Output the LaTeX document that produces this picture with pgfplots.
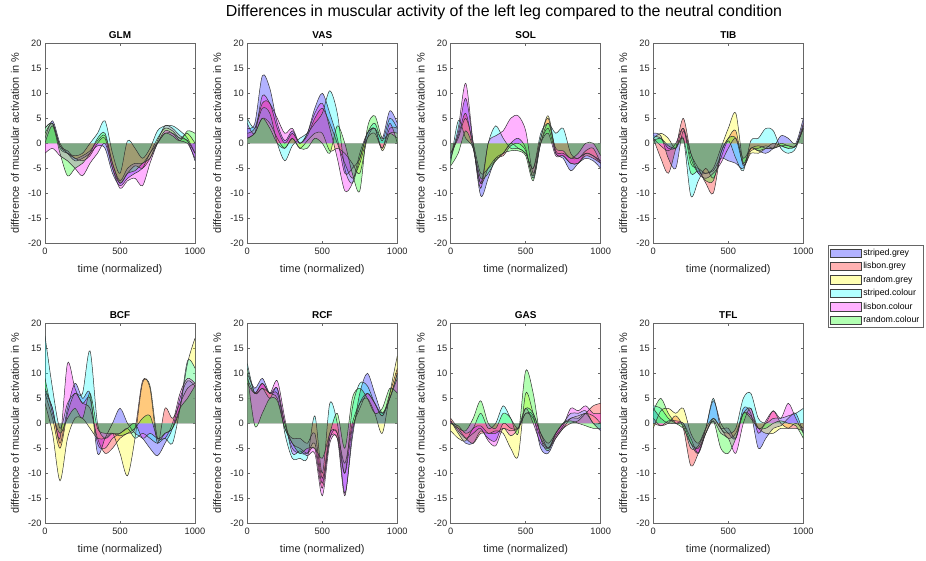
\documentclass[border=0pt]{standalone}
\usepackage{fontspec}
\setmainfont{Liberation Sans}
\usepackage{pgfplots}
\usepackage{pgfplotstable}
\pgfplotsset{compat=1.18}

\definecolor{cB}{rgb}{0,0,1}
\definecolor{cR}{rgb}{1,0,0}
\definecolor{cY}{rgb}{1,1,0}
\definecolor{cC}{rgb}{0,1,1}
\definecolor{cM}{rgb}{1,0,1}
\definecolor{cG}{rgb}{0,1,0}
\definecolor{axgrey}{rgb}{0.4,0.4,0.4}
\definecolor{txgrey}{rgb}{0.15,0.15,0.15}

% columns: a striped.grey, b lisbon.grey, c random.grey, d striped.colour, e lisbon.colour, f random.colour
\pgfplotstableread{
x a b c d e f
0 1 2 3 3 -2 0
50 4.5 4 4 4 -1 3.5
100 0 -0.5 -0.5 -1 -2.5 -2
150 -2 -2 -1.5 -2 -3.5 -6.5
200 -3.5 -3 -3 -2.5 -5 -5
250 -3 -3.5 -2.5 -2 -6.5 -4
300 -2 -2.5 -1.5 0 -4 -2
350 -0.5 0 0.5 2 -2 1
400 -1 1 1.5 4.5 0 2
450 -6 -5 -4 -2 -5 -4
500 -8.5 -8 -7.5 -6 -9 -8
550 -7 -6 -5 0.5 -7.5 -6
600 -6 -4.5 -4 -1 -7 -5.5
650 -5 -5 -4 -3 -8.5 -4
700 -2 -3 -2 -1 -4 -3
750 0 0.5 1 2.5 0 0
800 2 3.5 3 3.5 2.5 2
850 2 3 2.5 3.5 2 1.5
900 1 1.5 1 2.5 0.5 0.5
950 0.5 0.5 2 1 0 2.5
1000 -3.5 -2 0 -2 -3 2
}\tGLM

\pgfplotstableread{
x a b c d e f
0 3 2 1 5 4 1
50 4 3 2 3 2 2
100 13.5 8 5 7 9.5 5
150 11 8 4 6 8 3
200 4 3 1 0 5 0
250 0.5 0 -1 -3.5 2 -1
300 2.5 2 1 -0.5 3 1
350 0 0 -1 1 0 -1
400 2 1.5 0.5 2 2 -1
450 7 5 2 4 6 1
500 10 7 2 6 8 0
550 6 4 -1.5 10.5 3 -2
600 1 0 -1 6 -3 3.5
650 -6 -4 -2 -5 -9.5 0
700 -5 -7 -4 -8 -8 -6
750 -3 -4 -6 -3 -2 -9.5
800 2 1 1 2 2 3
850 3 2 3 4 3 5.5
900 1 -1 -1.5 0.5 -1 1
950 6.5 3 2 5 4 2
1000 4 3 2 3 0 1
}\tVAS

\pgfplotstableread{
x a b c d e f
0 -3 -2 -2 -4 -3 -4.5
50 2 1.5 1 4.5 3 -2
100 9 6 5 1 12 2.5
150 0 -1 0 -1 0 -1
200 -10.5 -8 -6 -8 -9 -7
250 -7 -5 -5 0 0 -6
300 -3 -3 -3.5 3.5 1.5 -3.5
350 -2 -2.5 -2 1 2.5 -2
400 0 -0.5 0 -1 5 -1.5
450 1 0 -1 -1 5.5 -1.5
500 -1 -1.5 -2 -2 2.5 -2.5
550 -7 -6.5 -5 -5 -6 -7.5
600 0 1 1 2 0 0
650 3 5 5.5 4 2 4
700 -2 -2 -1.5 2 -2.5 -1
750 -3 -2.5 -2 3 -2.5 -1.5
800 -5.5 -4 -3 -2 -4 -3
850 -4 -4 -3 -3 -4 -2
900 -3 -2.5 -2 -1.5 -2 0
950 -3.5 -3 -2.5 -1 -2.5 0
1000 -5 -4 -3.5 -4 -4 -2.5
}\tSOL

\pgfplotstableread{
x a b c d e f
0 2 1 1 1.5 1 0.5
50 1.5 -3 2 1 -0.5 1
100 -3 -6 1 -1 -1.5 -0.5
150 -5 -1 -1 -1 0 -1
200 2.5 5 3 1 3 1
250 -3 -2 -4 -10.5 -2 -6
300 -6 -5 -5 -7.5 -6 -5.5
350 -6 -8 -6 -5 -7 -7.5
400 -5.5 -10 -5 -7 -6 -7.5
450 -3 -2 -1 -3 -4 -2
500 -3.5 1 3 0.5 -1 1
550 -4 2.5 6 -3 1 1
600 -5 -4.5 -4 -5.5 -3 -4
650 -1 -1.5 -2 0.5 -1 -1
700 -1.5 -1 -2 1 -0.5 -1.5
750 -2 -0.5 -1 3 -1 -1
800 -1 -1 0 2.5 -1 -1
850 1.5 -0.5 -0.5 -1 0 -0.5
900 1 -0.5 -1 -2 -0.5 -1
950 0 -0.5 -0.5 -1 -0.5 -0.5
1000 5 4 3 3.5 3 3
}\tTIB

\pgfplotstableread{
x a b c d e f
0 7 6 4 17.5 6.5 9
50 3 1 -2 7 3 2
100 -4 -5 -11.5 -1 -3 -2
150 3 2 -3 4 12 1
200 8 6 1 6 7 3
250 5 4 1 6 4 1
300 6 3 -1 14.5 5 6
350 -6 -3 -3 0 -4 -1
400 -3 -6 -3 -3 -5 -2
450 0 -5 -2 -2 -3 -2
500 3 -3 -6 -2 -2 -2.5
550 0 -2 -10.5 -1 -1 -2
600 -2 -1 -3 -3 0 -1
650 -3 8.5 8 -2 -3 1
700 -5 7 7.5 -3 -2 1.5
750 -6.5 -4 -3 -4 -3 -3
800 -4 3 -2 -3 -3 -2
850 -1 1 -1 -4 0 -1
900 5 4 3 3 6 3
950 8.5 7 12 12.5 9 5
1000 7.5 8 17 11 8 7.5
}\tBCF

\pgfplotstableread{
x a b c d e f
0 10 9 11 12 8 10
50 7 6 6 6 6 -0.5
100 9 8 7 7 8 2
150 6 6 6 5 6 5
200 7 6 5 7 8.5 4.5
250 0 0 -1 -2 1 -1
300 -5 -4 -3 -7 -6 -4
350 -6 -5 -3 -7 -5.5 -6
400 -6 -6 -4 -7 -6.5 -5
450 -4 -5 -2 1.5 -6 -5
500 -12 -13 -11 -10 -14.5 -7
550 -3 -3 -2 4 -4 -2
600 -2 -3 -2 0 -3 2
650 -14 -10 -8 -10 -14.5 -5
700 -3 -1 0 3 -2 5
750 6 3 4 8 4 7
800 10 6 5 7.5 6 5
850 6 4 2 4 4 2
900 2 1.5 -2 2 1.5 3
950 5 6 6 5 5 7
1000 10 11 13.5 10 9 6
}\tRCF

\pgfplotstableread{
x a b c d e f
0 0.5 1 -1.5 0 0.5 0
50 -2 -1 -3 -0.5 -1.5 -1
100 -4 -3 -3.5 -2 -3 -1.5
150 -4 -4 -1 -1 -2 1
200 -1.5 -2 -0.5 2 -1 4.5
250 -3 -2 -2 -1 -3.5 0
300 -3.5 -2 -1.5 0 -4.5 -1
350 0 -1 -2 3.5 -1 2
400 -1 -1.5 -5 1 -2.5 1
450 -1 -1 -6.5 -1 -1 -2
500 2 2 6 3 3 10.5
550 1.5 1 2 2 0 6
600 -5 -3 -2 -2 -4 -3
650 -6 -5 -4 -5 -5 -5.5
700 -3 -3 -2 -2 -2.5 -2
750 -1 -1 0 0 -0.5 0
800 1 0 1 2 3 0.5
850 1 0.5 1.5 2 2.5 0
900 2 2 2 2.5 3.5 -0.5
950 0 3.5 1.5 0 2 -1
1000 -1.5 4 0 0 2 -1
}\tGAS

\pgfplotstableread{
x a b c d e f
0 3 0 -1 3.5 1 2.5
50 1 -0.5 2.5 3 -0.5 5
100 0 0 3 1 0.5 2
150 0 1.5 2 0 0.5 0
200 0 -1 3 -0.5 0 -1
250 -4 -8.5 -2 -5 -3 -4
300 -6 -6 -4 -4.5 -6 -5
350 -1 -2 -1 -1 -2 -2
400 4.5 1 1 5 0.5 0.5
450 0 -1 -1 -1 -2 -5
500 -2 -3 -1 -2 -3 -6
550 -3 -2 -3 -1 -6 -3
600 3 2 2 5 0 2
650 2 3 1.5 6 3 1
700 -5 -1 -1 1 -2 -1
750 -3 0 -2 0 0.5 -1
800 -1 2.5 -2 1 2.5 0
850 -0.5 0 -1 1 1 0.5
900 1 -1 -1 1.5 4 0
950 2 -1 0 2 1 -0.5
1000 -2 -1.5 -1 3 -2 -3
}\tTFL

\pgfplotsset{
  muscle/.style={
    scale only axis, width=150bp, height=200bp,
    anchor=south west,
    xmin=0, xmax=1000, ymin=-20, ymax=20,
    xtick={0,500,1000}, ytick={-20,-15,...,20},
    tick align=inside, xtick pos=both, ytick pos=both,
    major tick length=2.5bp,
    every tick/.style={axgrey, line width=0.5bp},
    axis line style={axgrey, line width=0.6bp},
    /pgf/number format/assume math mode=true,
    /pgf/number format/1000 sep={},
    ticklabel style={font=\fontsize{9.3}{10}\selectfont, text=txgrey},
    xticklabel style={yshift=-1bp},
    xlabel={time (normalized)},
    ylabel={difference of muscular activation in \%},
    label style={font=\fontsize{11}{12}\selectfont, text=txgrey},
    xlabel style={at={(axis description cs:0.5,-0.13)}, anchor=center},
    ylabel style={at={(axis description cs:-0.2,0.5)}, anchor=center, rotate=0},
    title style={font=\bfseries\fontsize{10}{12}\selectfont, yshift=-5bp},
    clip=true,
  },
  ar/.style={fill=#1, fill opacity=0.3, draw=none, smooth, tension=0.5,
    legend image code/.code={\draw[##1, draw=black!75, draw opacity=1, line width=0.5bp] (0bp,-4.2bp) rectangle (31bp,4.2bp);}},
  ln/.style={black!80, line width=0.5bp, smooth, tension=0.5, forget plot},
}

\newcommand{\muscleplots}[1]{%
  \addplot[ar=cB] table[x=x,y=a]{#1} \closedcycle;
  \addplot[ar=cR] table[x=x,y=b]{#1} \closedcycle;
  \addplot[ar=cY] table[x=x,y=c]{#1} \closedcycle;
  \addplot[ar=cC] table[x=x,y=d]{#1} \closedcycle;
  \addplot[ar=cM] table[x=x,y=e]{#1} \closedcycle;
  \addplot[ar=cG] table[x=x,y=f]{#1} \closedcycle;
  \addplot[ln] table[x=x,y=a]{#1};
  \addplot[ln] table[x=x,y=b]{#1};
  \addplot[ln] table[x=x,y=c]{#1};
  \addplot[ln] table[x=x,y=d]{#1};
  \addplot[ln] table[x=x,y=e]{#1};
  \addplot[ln] table[x=x,y=f]{#1};
}

\begin{document}
\begin{tikzpicture}
\path[use as bounding box] (0bp,0bp) rectangle (926bp,561bp);
\node[font=\fontsize{16}{18}\selectfont, text=black] at (504bp,549bp) {Differences in muscular activity of the left leg compared to the neutral condition};

\begin{axis}[muscle, at={(45bp,317.7bp)}, title={GLM}]
\muscleplots{\tGLM}
\end{axis}
\begin{axis}[muscle, at={(247.3bp,317.7bp)}, title={VAS}]
\muscleplots{\tVAS}
\end{axis}
\begin{axis}[muscle, at={(450.7bp,317.7bp)}, title={SOL}]
\muscleplots{\tSOL}
\end{axis}
\begin{axis}[muscle, at={(653.3bp,317.7bp)}, title={TIB},
  legend entries={striped.grey,lisbon.grey,random.grey,striped.colour,lisbon.colour,random.colour},
  legend style={at={(axis description cs:1.165,-0.01)}, anchor=north west,
    draw=axgrey, line width=0.5bp, font=\fontsize{8.8}{10}\selectfont, text=black,
    inner xsep=1.5bp, inner ysep=1.5bp, row sep=1.6bp, cells={anchor=west}},
  legend cell align=left]
\muscleplots{\tTIB}
\end{axis}

\begin{axis}[muscle, at={(45bp,37.7bp)}, title={BCF}]
\muscleplots{\tBCF}
\end{axis}
\begin{axis}[muscle, at={(247.3bp,37.7bp)}, title={RCF}]
\muscleplots{\tRCF}
\end{axis}
\begin{axis}[muscle, at={(450.7bp,37.7bp)}, title={GAS}]
\muscleplots{\tGAS}
\end{axis}
\begin{axis}[muscle, at={(653.3bp,37.7bp)}, title={TFL}]
\muscleplots{\tTFL}
\end{axis}
\end{tikzpicture}
\end{document}
